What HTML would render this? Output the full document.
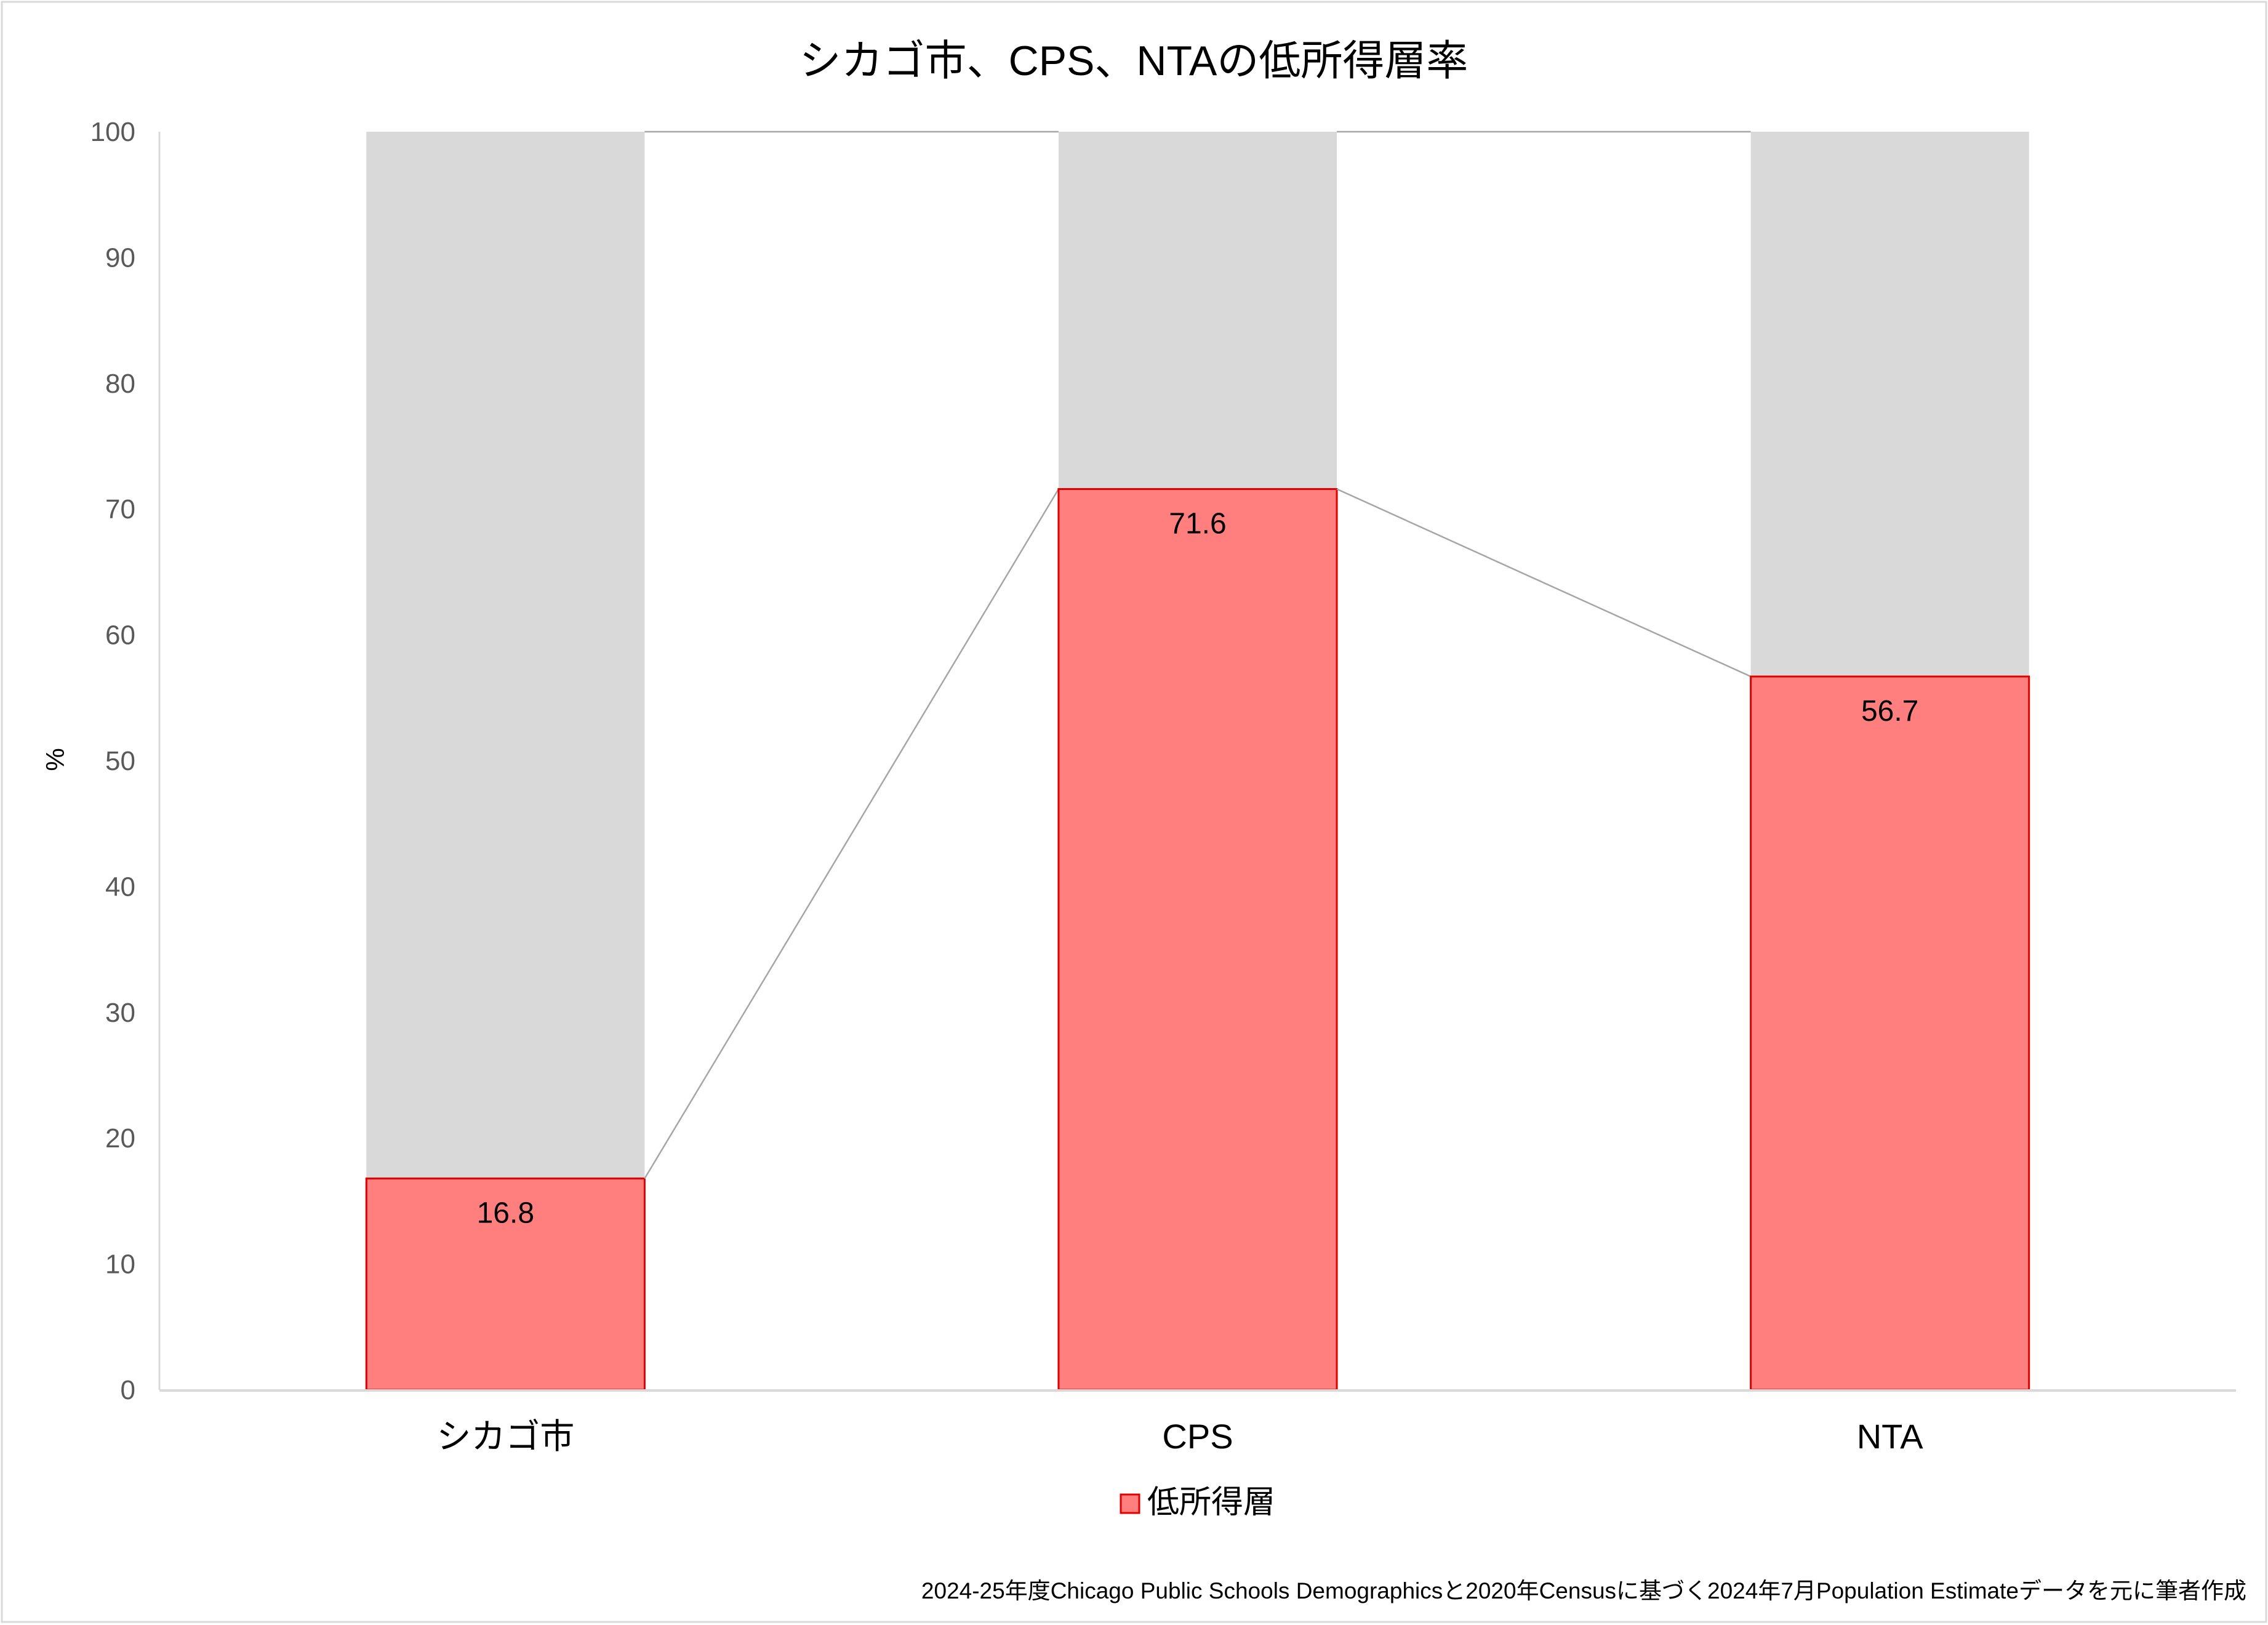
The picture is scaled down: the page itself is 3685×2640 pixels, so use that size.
<!DOCTYPE html>
<html><head><meta charset="utf-8"><style>
html,body{margin:0;padding:0;background:#fff;}
svg{display:block;font-family:"Liberation Sans","Noto Sans CJK JP",sans-serif;}
</style></head><body>
<svg id="chart" width="3685" height="2640" viewBox="0 0 3685 2640" xmlns="http://www.w3.org/2000/svg">
<rect x="3" y="3" width="3679" height="2632" fill="#fff" stroke="#d9d9d9" stroke-width="3"/>
<text x="1842" y="122" text-anchor="middle" font-size="68" fill="#000">シカゴ市、CPS、NTAの低所得層率</text>
<text transform="translate(104,1234) rotate(-90)" text-anchor="middle" font-size="42" fill="#000">%</text>
<g id="yticks"></g>
<line x1="259" y1="214" x2="259" y2="2258" stroke="#d9d9d9" stroke-width="3"/>
<g id="bars"></g>
<line x1="259" y1="2259" x2="3633" y2="2259" stroke="#d9d9d9" stroke-width="4"/>
<g id="xlabels"></g>
<rect x="1821" y="2428" width="30" height="30" fill="#ff7f7f" stroke="#e00000" stroke-width="3"/>
<text x="1864" y="2458" font-size="52" fill="#000">低所得層</text>
<text x="3650" y="2597" text-anchor="end" font-size="37" fill="#000">2024-25年度Chicago Public Schools Demographicsと2020年Censusに基づく2024年7月Population Estimateデータを元に筆者作成</text>
</svg>
<script>
const categories = ["シカゴ市", "CPS", "NTA"];
const lowIncome = [16.8, 71.6, 56.7];
const yTicks = [0, 10, 20, 30, 40, 50, 60, 70, 80, 90, 100];
const yMax = 100;

const NS = "http://www.w3.org/2000/svg";
const plotL = 259, plotR = 3633, plotT = 214, plotB = 2258;
const y = v => plotB - (v / yMax) * (plotB - plotT);
const band = (plotR - plotL) / categories.length;
const xc = i => plotL + band * (i + 0.5);
const bw = band * 0.402;

function mk(tag, attrs, parent) {
  const e = document.createElementNS(NS, tag);
  for (const k in attrs) e.setAttribute(k, attrs[k]);
  parent.appendChild(e);
  return e;
}

const yt = document.getElementById("yticks");
yTicks.forEach(t => {
  const e = mk("text", {x: 220, y: y(t) + 15, "text-anchor": "end", "font-size": 44, fill: "#595959"}, yt);
  
  
  e.textContent = t;
});

const g = document.getElementById("bars");
categories.forEach((c, i) => {
  const v = lowIncome[i];
  const x0 = xc(i) - bw / 2;
  const rest = mk("rect", {x: x0, y: y(yMax), width: bw, height: y(v) - y(yMax), fill: "#d9d9d9"}, g);
  
  
  const b = mk("rect", {x: x0, y: y(v), width: bw, height: y(0) - y(v), fill: "#ff7f7f", stroke: "#e00000", "stroke-width": 3}, g);
  
  
  const lb = mk("text", {x: xc(i), y: y(v) + 72, "text-anchor": "middle", "font-size": 48, fill: "#000"}, g);
  
  
  lb.textContent = v.toFixed(1);
  if (i < categories.length - 1) {
    const x1 = xc(i) + bw / 2, x2 = xc(i + 1) - bw / 2;
    const s1 = mk("line", {x1: x1, y1: y(v), x2: x2, y2: y(lowIncome[i + 1]), stroke: "#a6a6a6", "stroke-width": 2.5}, g);
    
    
    const s2 = mk("line", {x1: x1, y1: y(yMax), x2: x2, y2: y(yMax), stroke: "#a6a6a6", "stroke-width": 2.5}, g);
    
    
  }
});

const xl = document.getElementById("xlabels");
categories.forEach((c, i) => {
  const e = mk("text", {x: xc(i), y: 2353, "text-anchor": "middle", "font-size": 56, fill: "#000"}, xl);
  
  
  e.textContent = c;
});
</script>
</body></html>
